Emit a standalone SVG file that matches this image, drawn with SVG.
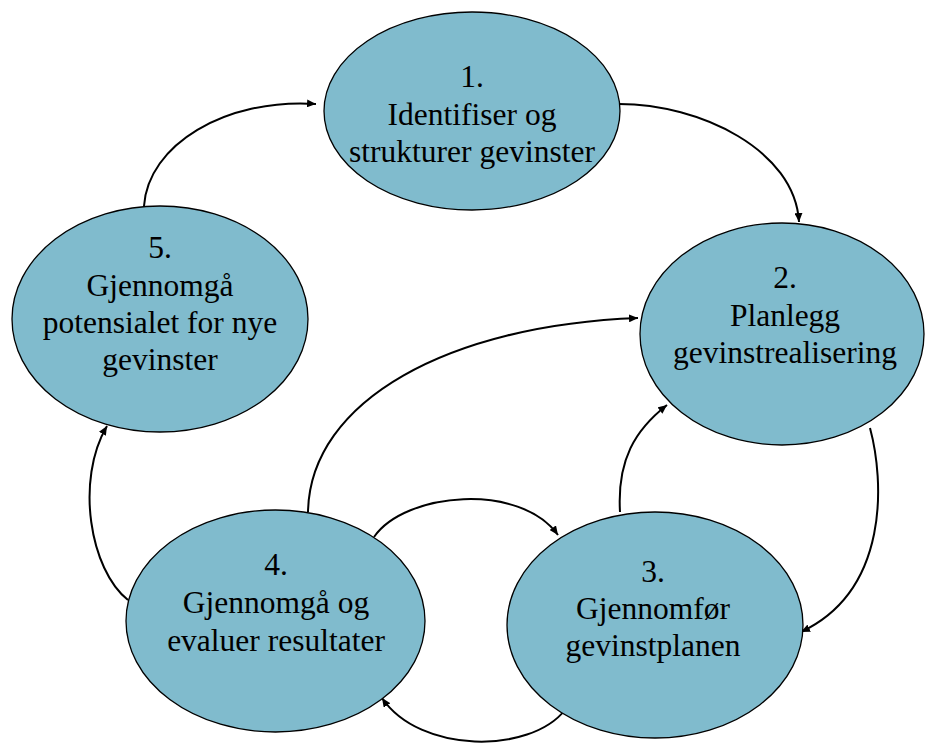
<svg xmlns="http://www.w3.org/2000/svg" width="925" height="743" viewBox="0 0 925 743">
<style>
.node ellipse{fill:#80BBCD;stroke:#000;stroke-width:1.3}
.node text{font-family:'Liberation Serif','DejaVu Serif',serif;font-size:31.5px;fill:#000;text-anchor:middle}
.conn path{fill:none;stroke:#000;stroke-width:2}
</style>
<defs>
<marker id="ah" markerUnits="userSpaceOnUse" markerWidth="10" markerHeight="8" refX="9" refY="4" orient="auto">
<path d="M0,0 L9,4 L0,8 Z" fill="#000"/>
</marker>
</defs>
<rect width="925" height="743" fill="#fff"/>
<g class="conn">
<path d="M144,206 C148,145 225,98 316,104" marker-end="url(#ah)"/>
<path d="M619,104 C700,104 795,150 799,222" marker-end="url(#ah)"/>
<path d="M870,428 C884,480 890,590 801,632" marker-end="url(#ah)"/>
<path d="M620,512 C617,460 635,430 667,405" marker-end="url(#ah)"/>
<path d="M308,512 C310,400 450,325 638,318" marker-end="url(#ah)"/>
<path d="M374,537 C405,492 520,482 558,535" marker-end="url(#ah)"/>
<path d="M565,710 C530,754 420,754 382,698" marker-end="url(#ah)"/>
<path d="M128,600 C90,570 75,480 107,426" marker-end="url(#ah)"/>
</g>
<g id="node1" class="node" font-family="Liberation Serif">
<ellipse cx="472" cy="111" rx="148" ry="99"/>
<text x="472" y="87">1.</text>
<text x="472" y="125">Identifiser og</text>
<text x="472" y="162">strukturer gevinster</text>
</g>
<g id="node2" class="node" font-family="Liberation Serif">
<ellipse cx="782" cy="334" rx="142" ry="111"/>
<text x="785" y="288">2.</text>
<text x="785" y="326">Planlegg</text>
<text x="785" y="363">gevinstrealisering</text>
</g>
<g id="node3" class="node" font-family="Liberation Serif">
<ellipse cx="655" cy="625" rx="148" ry="113"/>
<text x="653" y="582">3.</text>
<text x="653" y="619">Gjennomfør</text>
<text x="653" y="656">gevinstplanen</text>
</g>
<g id="node4" class="node" font-family="Liberation Serif">
<ellipse cx="275.5" cy="621" rx="149.5" ry="111"/>
<text x="276" y="575">4.</text>
<text x="276" y="613">Gjennomgå og</text>
<text x="276" y="651">evaluer resultater</text>
</g>
<g id="node5" class="node" font-family="Liberation Serif">
<ellipse cx="160" cy="319" rx="148" ry="113"/>
<text x="160" y="258">5.</text>
<text x="160" y="296">Gjennomgå</text>
<text x="160" y="333">potensialet for nye</text>
<text x="160" y="370">gevinster</text>
</g>
</svg>
